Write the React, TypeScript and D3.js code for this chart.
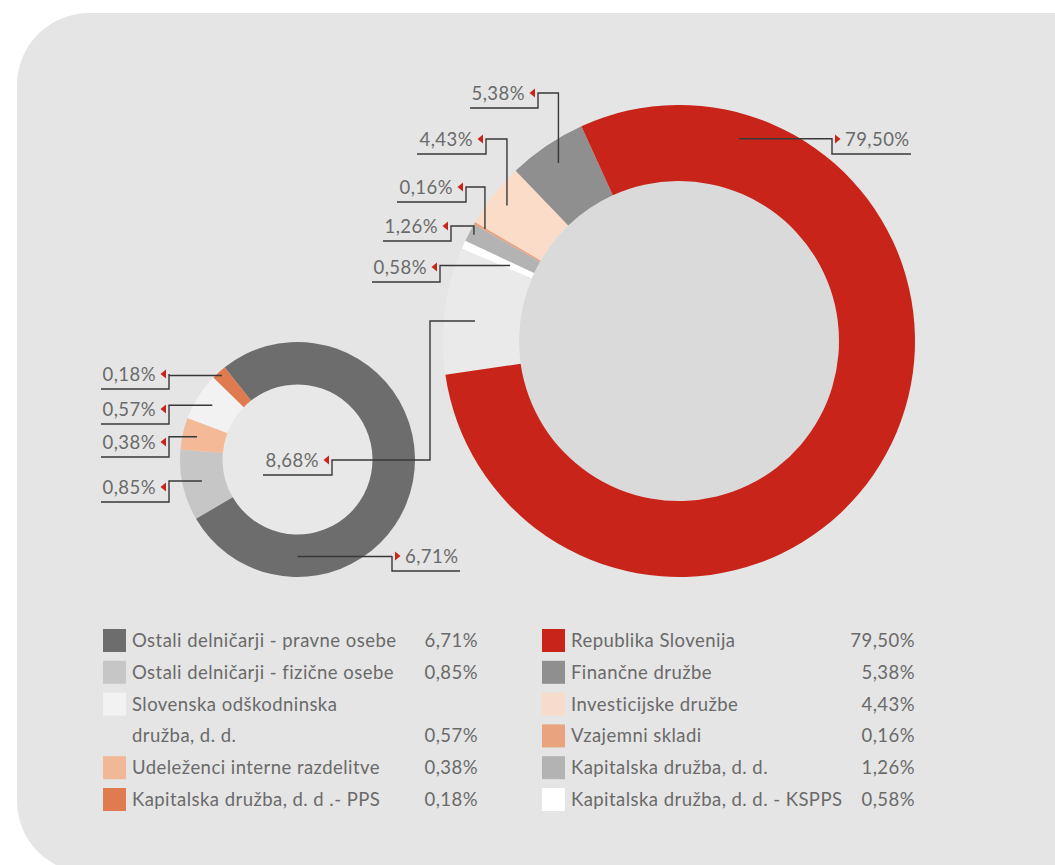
import React from 'react';
import * as d3 from 'd3';

// velika krožnica (v smeri urinega kazalca)
const bigCategories = [
  'Ostali delničarji',
  'Kapitalska družba, d. d. - KSPPS',
  'Kapitalska družba, d. d.',
  'Vzajemni skladi',
  'Investicijske družbe',
  'Finančne družbe',
  'Republika Slovenija',
];
const bigValues = [8.68, 0.58, 1.26, 0.16, 4.43, 5.38, 79.5];
const bigColors = ['#eaeaea', '#ffffff', '#b3b3b3', '#e9a37f', '#fbdcc9', '#8f8f8f', '#c8241a'];

// mala krožnica (razčlenitev 8,68 %)
const smallCategories = [
  'Ostali delničarji - fizične osebe',
  'Udeleženci interne razdelitve',
  'Slovenska odškodninska družba, d. d.',
  'Kapitalska družba, d. d .- PPS',
  'Ostali delničarji - pravne osebe',
];
const smallValues = [0.85, 0.38, 0.57, 0.18, 6.71];
const smallColors = ['#c6c6c6', '#f4b996', '#f2f2f2', '#df7b4f', '#6d6d6d'];

// legenda
const leftLegend = [
  'Ostali delničarji - pravne osebe',
  'Ostali delničarji - fizične osebe',
  'Slovenska odškodninska\ndružba, d. d.',
  'Udeleženci interne razdelitve',
  'Kapitalska družba, d. d .- PPS',
];
const leftLegendValues = [6.71, 0.85, 0.57, 0.38, 0.18];
const leftLegendColors = ['#6d6d6d', '#c6c6c6', '#f2f2f2', '#f0b896', '#df7b4f'];
const rightLegend = [
  'Republika Slovenija',
  'Finančne družbe',
  'Investicijske družbe',
  'Vzajemni skladi',
  'Kapitalska družba, d. d.',
  'Kapitalska družba, d. d. - KSPPS',
];
const rightLegendValues = [79.5, 5.38, 4.43, 0.16, 1.26, 0.58];
const rightLegendColors = ['#c8241a', '#8f8f8f', '#f8dccb', '#e9a37f', '#b3b3b3', '#ffffff'];

const locale = d3.formatLocale({ decimal: ',', thousands: '.', grouping: [3], currency: ['', ''] });
const fmt = (v: number) => locale.format('.2f')(v) + '%';
const rad = (deg: number) => (deg * Math.PI) / 180;

const FONT = 'Lato, "Open Sans", sans-serif';
const TEXT = '#6a6a6a';
const LINE = '#383838';
const RED = '#c8241a';
const FS = 18.5;
const LS = 0.45;

interface Callout {
  ring: 'big' | 'small';
  idx: number;
  angle?: number; // override (deg)
  r: number;
  side: 'left' | 'right';
  elbowX: number;
  labelY: number;
  endX: number;
  jogX?: number;
}

const callouts: Callout[] = [
  { ring: 'big', idx: 5, r: 215, side: 'left', elbowX: 538, labelY: 93, endX: 470 },
  { ring: 'big', idx: 4, r: 219, side: 'left', elbowX: 486, labelY: 139, endX: 417 },
  { ring: 'big', idx: 3, r: 224, side: 'left', elbowX: 466, labelY: 187, endX: 397 },
  { ring: 'big', idx: 2, r: 231, side: 'left', elbowX: 451, labelY: 226, endX: 383 },
  { ring: 'big', idx: 1, r: 185, side: 'left', elbowX: 440, labelY: 267, endX: 372, jogX: 440 },
  { ring: 'big', idx: 0, angle: -84.4, r: 205, side: 'left', elbowX: 332, labelY: 460, endX: 263, jogX: 430 },
  { ring: 'big', idx: 6, angle: 16.5, r: 211, side: 'right', elbowX: 832, labelY: 139, endX: 911, jogX: 832 },
  { ring: 'small', idx: 3, r: 113, side: 'left', elbowX: 169, labelY: 374, endX: 101, jogX: 169 },
  { ring: 'small', idx: 2, r: 101, side: 'left', elbowX: 169, labelY: 409, endX: 101, jogX: 169 },
  { ring: 'small', idx: 1, r: 103, side: 'left', elbowX: 169, labelY: 442, endX: 101, jogX: 169 },
  { ring: 'small', idx: 0, r: 98, side: 'left', elbowX: 169, labelY: 487, endX: 101, jogX: 169 },
  { ring: 'small', idx: 4, angle: 180, r: 97, side: 'right', elbowX: 392, labelY: 556, endX: 460, jogX: 392 },
];

export default function App() {
  const width = 1055;
  const height = 865;

  const big = { cx: 679, cy: 341, inner: 160, outer: 236, start: -98.2 };
  const small = { cx: 297.5, cy: 459.5, inner: 75, outer: 117.5, start: -120.3 };

  const bigPie = d3.pie<number>().sort(null).startAngle(rad(big.start)).endAngle(rad(big.start) + Math.PI * 2)(bigValues);
  const smallPie = d3.pie<number>().sort(null).startAngle(rad(small.start)).endAngle(rad(small.start) + Math.PI * 2)(smallValues);
  const bigArc = d3.arc<d3.PieArcDatum<number>>().innerRadius(big.inner).outerRadius(big.outer);
  const smallArc = d3.arc<d3.PieArcDatum<number>>().innerRadius(small.inner).outerRadius(small.outer);

  const line = d3.line();

  const legendTop = 629;
  const rowH = 31.8;

  const renderLegend = (labels: string[], values: number[], colors: string[], x0: number, xRight: number) => {
    let row = 0;
    return labels.map((lab, i) => {
      const lines = lab.split('\n');
      const y = legendTop + row * rowH;
      row += lines.length;
      return (
        <g key={lab}>
          <rect x={x0} y={y} width={23} height={23} fill={colors[i]} />
          {lines.map((t, j) => (
            <text key={j} x={x0 + 29} y={y + 18 + j * rowH} fontSize={FS} letterSpacing={LS} fill={TEXT} fontFamily={FONT}>
              {t}
            </text>
          ))}
          <text x={xRight} y={y + 18 + (lines.length - 1) * rowH} fontSize={FS} letterSpacing={LS} fill={TEXT} fontFamily={FONT} textAnchor="end">
            {fmt(values[i])}
          </text>
        </g>
      );
    });
  };

  return (
    <svg width={width} height={height} style={{ position: 'absolute', left: 0, top: 0, background: '#fff' }}>
      <rect x={17} y={13} width={1200} height={860} rx={72} ry={72} fill="#e5e5e5" />

      {/* velika krožnica */}
      <g transform={`translate(${big.cx},${big.cy})`}>
        <circle r={big.inner} fill="#dadada" />
        {bigPie.map((d, i) => (
          <path key={bigCategories[i]} d={bigArc(d) || ''} fill={bigColors[i]} />
        ))}
      </g>

      {/* mala krožnica */}
      <g transform={`translate(${small.cx},${small.cy})`}>
        <circle r={small.inner} fill="#e8e8e8" />
        {smallPie.map((d, i) => (
          <path key={smallCategories[i]} d={smallArc(d) || ''} fill={smallColors[i]} />
        ))}
      </g>

      {/* oznake */}
      {callouts.map((c, k) => {
        const ring = c.ring === 'big' ? big : small;
        const pie = c.ring === 'big' ? bigPie : smallPie;
        const d = pie[c.idx];
        const ang = c.angle !== undefined ? rad(c.angle) : (d.startAngle + d.endAngle) / 2;
        const [px, py] = d3.pointRadial(ang, c.r);
        const ax = ring.cx + px;
        const ay = ring.cy + py;
        const jx = c.jogX ?? ax;
        const underY = c.labelY + 15;
        const pts: [number, number][] = [
          [ax, ay],
          [jx, ay],
          [jx, c.labelY],
          [c.elbowX, c.labelY],
          [c.elbowX, underY],
          [c.endX, underY],
        ];
        const dir = c.side === 'left' ? -1 : 1;
        const bx = c.elbowX + dir * 3;
        const tx = c.elbowX + dir * 8.5;
        const tri = `M${bx},${c.labelY - 4.5}L${tx},${c.labelY}L${bx},${c.labelY + 4.5}Z`;
        return (
          <g key={k}>
            <path d={line(pts) || ''} fill="none" stroke={LINE} strokeWidth={1.4} />
            <path d={tri} fill={RED} />
            <text
              x={c.elbowX + dir * 13}
              y={c.labelY + 7}
              fontSize={FS}
              letterSpacing={LS}
              fill={TEXT}
              fontFamily={FONT}
              textAnchor={c.side === 'left' ? 'end' : 'start'}
            >
              {fmt(c.ring === 'big' ? bigValues[c.idx] : smallValues[c.idx])}
            </text>
          </g>
        );
      })}

      {renderLegend(leftLegend, leftLegendValues, leftLegendColors, 103, 478)}
      {renderLegend(rightLegend, rightLegendValues, rightLegendColors, 542, 915)}
    </svg>
  );
}
